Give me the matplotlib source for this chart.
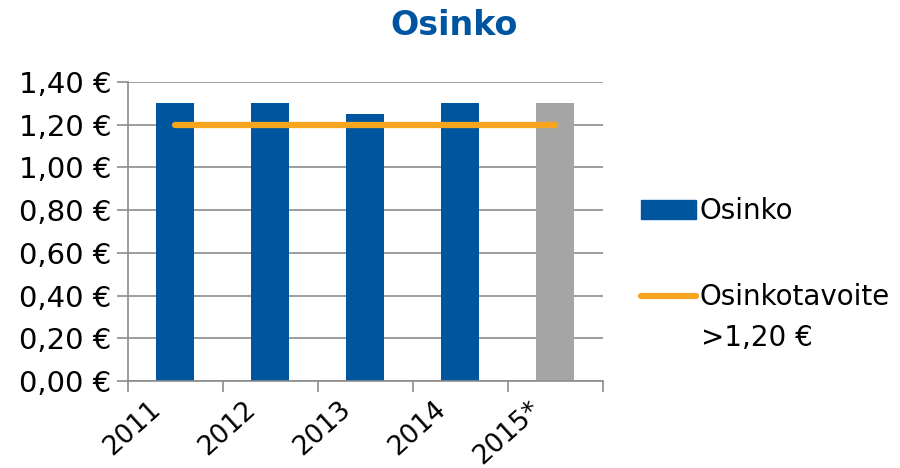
import matplotlib.pyplot as plt
from matplotlib.lines import Line2D
from matplotlib.patches import Patch
from matplotlib.transforms import ScaledTranslation

years = ['2011', '2012', '2013', '2014', '2015*']
osinko = [1.30, 1.30, 1.25, 1.30, 1.30]
tavoite = [1.20, 1.20, 1.20, 1.20, 1.20]
bar_colors = ['#00559F', '#00559F', '#00559F', '#00559F', '#A5A5A5']
yticks = [0.0, 0.2, 0.4, 0.6, 0.8, 1.0, 1.2, 1.4]

fig = plt.figure(figsize=(9, 4.68), dpi=100)
ax = fig.add_axes([0.142, 0.186, 0.528, 0.639])

x = list(range(len(years)))
ax.bar(x, osinko, width=0.4, color=bar_colors, zorder=2)
ax.plot(x, tavoite, color='#F7A51E', lw=4.5, solid_capstyle='round', zorder=3)

ax.set_xlim(-0.5, 4.5)
ax.set_ylim(0, 1.4)
ax.set_yticks(yticks)
ax.set_yticklabels([f'{v:.2f} €'.replace('.', ',') for v in yticks], fontsize=21)
ax.yaxis.grid(True, color='#8C8C8C', lw=1.2, zorder=0)

ax.set_xticks([i - 0.5 for i in range(len(years) + 1)])
ax.set_xticklabels([])
ax.set_xticks(x, minor=True)
ax.set_xticklabels(years, minor=True, rotation=42, ha='right', rotation_mode='anchor', fontsize=19)
ax.tick_params(axis='x', which='major', length=8, color='#8C8C8C', width=1.2)
ax.tick_params(axis='x', which='minor', length=0, pad=11)
ax.tick_params(axis='y', length=8, color='#8C8C8C', width=1.2, pad=4)
shift = ScaledTranslation(-0.27, 0, fig.dpi_scale_trans)
for lab in ax.get_xticklabels(minor=True):
    lab.set_transform(lab.get_transform() + shift)

for s in ['top', 'right']:
    ax.spines[s].set_visible(False)
for s in ['left', 'bottom']:
    ax.spines[s].set_color('#8C8C8C')
    ax.spines[s].set_linewidth(1.2)

fig.text(0.505, 0.945, 'Osinko', ha='center', va='center', fontsize=24,
         fontweight='bold', color='#0055A0')

handles = [Patch(color='#00559F'),
           Line2D([0], [0], color='#F7A51E', lw=4.5, solid_capstyle='round')]
fig.legend(handles, ['Osinko', 'Osinkotavoite'], loc='upper left',
           bbox_to_anchor=(0.712, 0.579), frameon=False, fontsize=20,
           handlelength=2.0, handletextpad=0.1, labelspacing=2.1, borderpad=0,
           borderaxespad=0)
fig.text(0.779, 1 - 338 / 468, '>1,20 €', ha='left', va='center', fontsize=20)

fig.savefig('out.png', dpi=100)
